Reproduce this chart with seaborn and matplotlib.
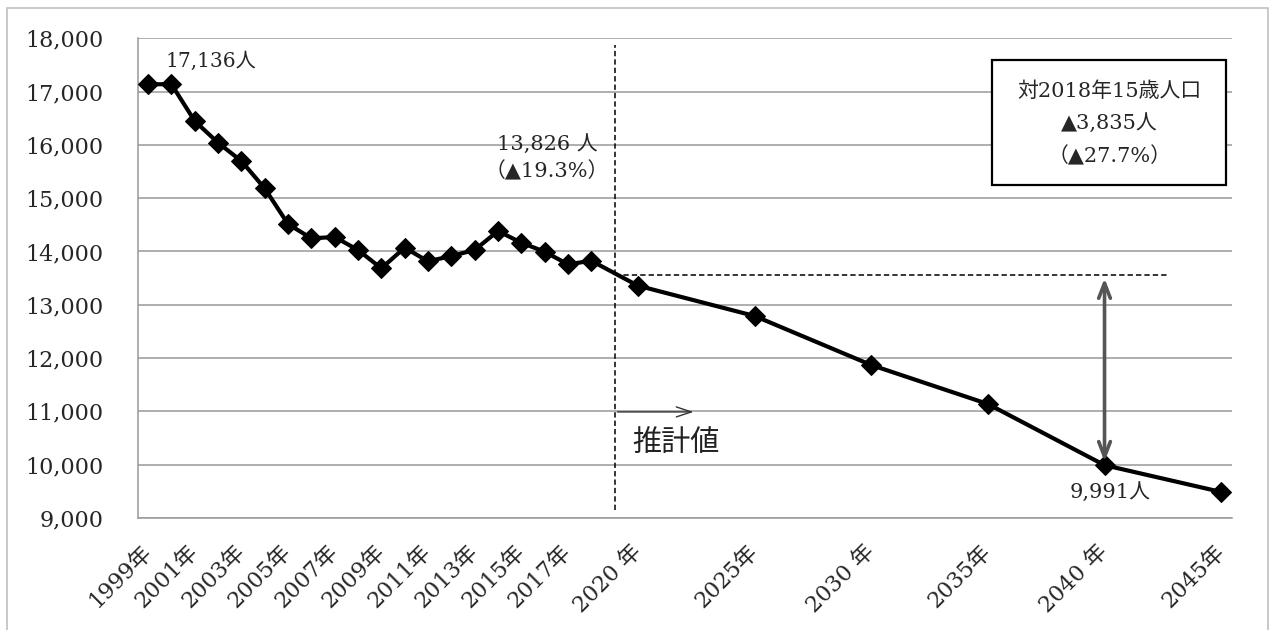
import matplotlib
matplotlib.use("Agg")
import matplotlib.pyplot as plt
import matplotlib.patches as mpatches
import matplotlib.transforms as mtransforms
import seaborn as sns

# -----------------------------
# data (15歳人口: 実績 + 推計)
# -----------------------------
years = [1999, 2000, 2001, 2002, 2003, 2004, 2005, 2006, 2007, 2008,
         2009, 2010, 2011, 2012, 2013, 2014, 2015, 2016, 2017, 2018,
         2020, 2025, 2030, 2035, 2040, 2045]
students = [17136, 17140, 16448, 16041, 15697, 15185, 14515, 14247, 14272, 14028,
            13684, 14071, 13816, 13915, 14028, 14384, 14165, 13996, 13759, 13826,
            13358, 12790, 11870, 11139, 9991, 9488]

tick_years = [1999, 2001, 2003, 2005, 2007, 2009, 2011, 2013, 2015, 2017,
              2020, 2025, 2030, 2035, 2040, 2045]
tick_labels = ["1999年", "2001年", "2003年", "2005年", "2007年", "2009年",
               "2011年", "2013年", "2015年", "2017年",
               "2020 年", "2025年", "2030 年", "2035年", "2040 年", "2045年"]
y_ticks = [9000, 10000, 11000, 12000, 13000, 14000, 15000, 16000, 17000, 18000]

label_first = "17,136人"
label_2018 = "13,826 人\n（▲19.3%）"
label_2040 = "9,991人"
box_text = "対2018年15歳人口\n▲3,835人\n（▲27.7%）"
forecast_text = "推計値"

forecast_start = 2019      # 推計値の境界
ref_level = 13550          # 点線の水平線 (作図上の位置)
ref_end = 2042.7

# -----------------------------
# style
# -----------------------------
sns.set_theme(style="white")
plt.rcParams["font.family"] = ["DejaVu Serif", "Noto Sans CJK JP", "DejaVu Sans"]
plt.rcParams["axes.unicode_minus"] = False

GRID = "#999999"

fig = plt.figure(figsize=(12.72, 6.30), dpi=100)
ax = fig.add_axes([0.1085, 0.1778, 0.8598, 0.7614])

sns.lineplot(x=years, y=students, ax=ax, color="black", linewidth=3.0,
             marker="D", markersize=10, markeredgecolor="black",
             markerfacecolor="black", zorder=5)

ax.set_xlim(1998.57, 2045.45)
ax.set_ylim(9000, 18000)
ax.set_yticks(y_ticks)
ax.set_yticklabels([f"{v:,}" for v in y_ticks], fontsize=16)
ax.set_xticks(tick_years)
ax.set_xticklabels(tick_labels, fontsize=16, rotation=45, ha="right",
                   va="center", rotation_mode="anchor")
offset = mtransforms.ScaledTranslation(10 / 100, 2 / 100, fig.dpi_scale_trans)
for lbl in ax.get_xticklabels():
    lbl.set_transform(lbl.get_transform() + offset)

ax.tick_params(axis="y", length=0, pad=25)
ax.tick_params(axis="x", length=0, pad=22)
ax.set_xlabel("")
ax.set_ylabel("")

ax.yaxis.grid(True, color=GRID, linewidth=1.1)
ax.xaxis.grid(False)
ax.set_axisbelow(True)
for side in ["top", "right"]:
    ax.spines[side].set_visible(False)
for side in ["left", "bottom"]:
    ax.spines[side].set_color(GRID)
    ax.spines[side].set_linewidth(1.1)

# 推計値の境界線と水平の点線
ax.plot([forecast_start, forecast_start], [9150, 17870], color="black",
        linewidth=1.1, linestyle=(0, (3.5, 2)), zorder=4)
ax.plot([forecast_start, ref_end], [ref_level, ref_level], color="black",
        linewidth=1.1, linestyle=(0, (3.5, 2)), zorder=4)

# 両矢印 (2018年 → 2040年 の減少)
ax.annotate("", xy=(years[24], students[24] + 15), xytext=(years[24], ref_level),
            arrowprops=dict(arrowstyle="<->,head_length=0.9,head_width=0.35",
                            color="#555555", linewidth=2.6), zorder=6)

# 推計値の矢印
ax.annotate("", xy=(2022.5, 10990), xytext=(forecast_start, 10990),
            arrowprops=dict(arrowstyle="->,head_length=0.9,head_width=0.3",
                            color="#333333", linewidth=1.0))
ax.text(2019.75, 10400, forecast_text, fontsize=21, ha="left", va="center",
        family=["Noto Sans CJK JP"], color="#222222")

# データラベル
ax.annotate(label_first, xy=(years[0], students[0]), xytext=(45, 17),
            textcoords="offset points", ha="center", va="center", fontsize=14.5)
ax.annotate(label_2018, xy=(years[19], students[19]), xytext=(-32, 74),
            textcoords="offset points", ha="center", va="center", fontsize=15,
            linespacing=1.45)
ax.annotate(label_2040, xy=(years[24], students[24]), xytext=(4, -19.5),
            textcoords="offset points", ha="center", va="center", fontsize=15)

# 注記ボックス
box = mpatches.Rectangle((0.781, 0.694), 0.214, 0.261, transform=ax.transAxes,
                         facecolor="white", edgecolor="black", linewidth=1.6,
                         zorder=7)
ax.add_patch(box)
ax.text(0.888, 0.8215, box_text, transform=ax.transAxes, ha="center",
        va="center", fontsize=15, linespacing=1.75, zorder=8)

# 外枠
frame = mpatches.Rectangle((7 / 1272, -0.05), 1261 / 1272, 1.05 - 8 / 630,
                           transform=fig.transFigure, facecolor="none",
                           edgecolor="#c0c0c0", linewidth=1.2)
fig.patches.append(frame)

fig.savefig("out.png", dpi=100)
